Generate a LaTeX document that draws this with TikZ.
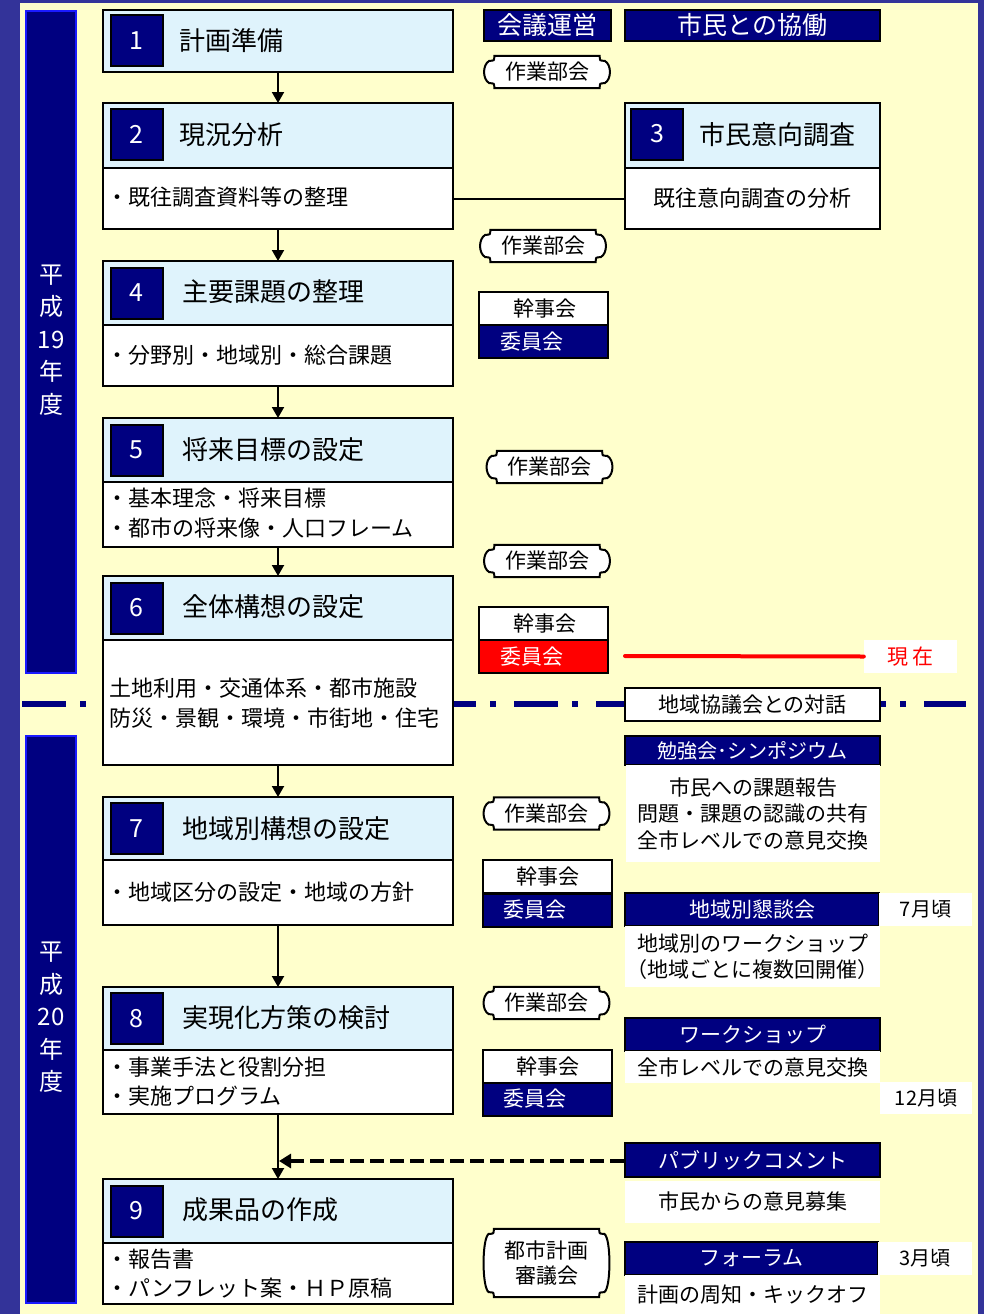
\documentclass[tikz,border=0pt]{standalone}
\usepackage{fontspec}
\setmainfont{Noto Sans CJK JP}
\usetikzlibrary{arrows.meta}
\definecolor{navy}{HTML}{000080}
\definecolor{framec}{HTML}{333399}
\definecolor{bgy}{HTML}{FFFFCC}
\definecolor{hdrblue}{HTML}{DFF3FC}
\definecolor{colborder}{HTML}{1A1AFF}
\newcommand\fs[2]{\fontsize{#1}{#2}\selectfont}
\newcommand\plaqueframe[1]{%
\draw[plqline] ([xshift=5pt]#1.north west) -- ([xshift=-5pt]#1.north east)
 .. controls ([xshift=-5pt,yshift=-5pt]#1.north east) .. ([yshift=-5pt]#1.north east)
 .. controls ([xshift=7pt,yshift=-9pt]#1.north east) and ([xshift=7pt,yshift=9pt]#1.south east) .. ([yshift=5pt]#1.south east)
 .. controls ([xshift=-5pt,yshift=5pt]#1.south east) .. ([xshift=-5pt]#1.south east)
 -- ([xshift=5pt]#1.south west)
 .. controls ([xshift=5pt,yshift=5pt]#1.south west) .. ([yshift=5pt]#1.south west)
 .. controls ([xshift=-7pt,yshift=9pt]#1.south west) and ([xshift=-7pt,yshift=-9pt]#1.north west) .. ([yshift=-5pt]#1.north west)
 .. controls ([xshift=5pt,yshift=-5pt]#1.north west) .. ([xshift=5pt]#1.north west) -- cycle;}
\tikzset{
  hdr/.style={draw=black, line width=2.2pt, fill=hdrblue, anchor=north west, minimum width=350pt, inner sep=0pt, outer sep=0pt},
  bodybox/.style={draw=black, line width=2.2pt, fill=white, anchor=north west, minimum width=350pt, inner sep=0pt, outer sep=0pt},
  numsq/.style={draw=black, line width=2pt, fill=navy, text=white, minimum width=52pt, minimum height=51pt, inner sep=0pt, font=\fs{25}{30}},
  ttl/.style={anchor=west, inner sep=0pt, font=\fs{26}{30}},
  btxt/.style={anchor=west, inner sep=0pt, align=left, font=\fs{22}{29.5}},
  lab/.style={inner sep=0pt, font=\fs{21}{26}},
  navybox/.style={draw=black, line width=2pt, fill=navy, text=white, inner sep=0pt, font=\fs{21}{26}},
  whitebox/.style={fill=white, inner sep=0pt, font=\fs{21}{26.5}, align=center},
  kbox/.style={draw=black, line width=2pt, fill=white, inner sep=0pt, minimum width=129pt, minimum height=33pt},
  plqbox/.style={inner sep=0pt, minimum width=115pt, minimum height=32pt},
  plqline/.style={draw=black, line width=2pt, fill=white},
  yearcol/.style={draw=colborder, line width=2pt, fill=navy},
  yeartxt/.style={text=white, align=center, inner sep=0pt, font=\fs{24}{32.5}},
  arr/.style={line width=2pt, -{Triangle[length=11pt,width=12pt]}},
}
\begin{document}
\begin{tikzpicture}[x=1pt,y=-1pt]
\useasboundingbox (0,0) rectangle (984,1314);
\fill[framec] (0,0) rectangle (984,1314);
\fill[bgy] (20,3) rectangle (978,1314);
% year columns
\node[yearcol, anchor=north west, minimum width=50pt, minimum height=662pt] (col1) at (25,10) {};
\node[yearcol, anchor=north west, minimum width=50pt, minimum height=567pt] (col2) at (25,735) {};
\node[yeartxt] (y19) at (col1.center |- 0,340) {平\\成\\19\\年\\度};
\node[yeartxt] (y20) at (col2.center |- 0,1017.5) {平\\成\\20\\年\\度};
% dash-dot separator
\coordinate (sepL) at (22,704);
\coordinate (sepR) at (966,704);
\draw[navy, line width=6pt, dash pattern=on 44pt off 14pt on 6pt off 18pt] (sepL) -- (sepR);

% ---- step boxes ----
\node[hdr, minimum height=62pt] (h1) at (103,10) {};
\node[numsq] (n1) at (136.5,41) {1};
\node[ttl] (t1) at (179,41) {計画準備};

\node[hdr, minimum height=65pt] (h2) at (103,103) {};
\node[bodybox, minimum height=61pt] (b2) at (103,168) {};
\node[numsq] (n2) at (136.5,134) {2};
\node[ttl] (t2) at (179,135) {現況分析};
\node[btxt] (x2) at (106,197) {・既往調査資料等の整理};

\node[hdr, minimum height=65pt, minimum width=255pt] (h3) at (625,103) {};
\node[bodybox, minimum height=61pt, minimum width=255pt] (b3) at (625,168) {};
\node[numsq] (n3) at (657,134) {3};
\node[ttl] (t3) at (699,135) {市民意向調査};
\node[inner sep=0pt, font=\fs{22}{26}] (x3) at (b3.center) {既往意向調査の分析};

\node[hdr, minimum height=64pt] (h4) at (103,261) {};
\node[bodybox, minimum height=61pt] (b4) at (103,325) {};
\node[numsq] (n4) at (136.5,293) {4};
\node[ttl] (t4) at (182,292) {主要課題の整理};
\node[btxt] (x4) at (106,355) {・分野別・地域別・総合課題};

\node[hdr, minimum height=64pt] (h5) at (103,418) {};
\node[bodybox, minimum height=65pt] (b5) at (103,482) {};
\node[numsq] (n5) at (136.5,450) {5};
\node[ttl] (t5) at (182,450) {将来目標の設定};
\node[btxt] (x5) at (106,513) {・基本理念・将来目標\\・都市の将来像・人口フレーム};

\node[hdr, minimum height=64pt] (h6) at (103,576) {};
\node[bodybox, minimum height=125pt] (b6) at (103,640) {};
\node[numsq] (n6) at (136.5,608) {6};
\node[ttl] (t6) at (182,607) {全体構想の設定};
\node[btxt] (x6) at (109,703) {土地利用・交通体系・都市施設\\防災・景観・環境・市街地・住宅};

\node[hdr, minimum height=63pt] (h7) at (103,797) {};
\node[bodybox, minimum height=65pt] (b7) at (103,860) {};
\node[numsq] (n7) at (136.5,828.5) {7};
\node[ttl] (t7) at (182,829) {地域別構想の設定};
\node[btxt] (x7) at (106,892) {・地域区分の設定・地域の方針};

\node[hdr, minimum height=63pt] (h8) at (103,987) {};
\node[bodybox, minimum height=64pt] (b8) at (103,1050) {};
\node[numsq] (n8) at (136.5,1018.5) {8};
\node[ttl] (t8) at (182,1018) {実現化方策の検討};
\node[btxt] (x8) at (106,1081.5) {・事業手法と役割分担\\・実施プログラム};

\node[hdr, minimum height=64pt] (h9) at (103,1179) {};
\node[bodybox, minimum height=61pt] (b9) at (103,1243) {};
\node[numsq] (n9) at (136.5,1211) {9};
\node[ttl] (t9) at (182,1210) {成果品の作成};
\node[btxt] (x9) at (106,1273.5) {・報告書\\・パンフレット案・ＨＰ原稿};

% connectors
\draw[arr] (h1.south) -- (h2.north);
\draw[arr] (b2.south) -- (h4.north);
\draw[arr] (b4.south) -- (h5.north);
\draw[arr] (b5.south) -- (h6.north);
\draw[arr] (b6.south) -- (h7.north);
\draw[arr] (b7.south) -- (h8.north);
\draw[arr] (b8.south) -- (h9.north);
\draw[line width=2pt] (b2.east) -- (b3.west);

% ---- meeting column ----
\node[navybox, minimum width=127pt, minimum height=31pt, font=\fs{25}{28}] (kaigi) at (547,25.5) {会議運営};

\node[plqbox] (w1) at (547,72) {}; \plaqueframe{w1}; \node[lab] (w1t) at (w1) {作業部会};
\node[plqbox] (w2) at (543,246) {}; \plaqueframe{w2}; \node[lab] (w2t) at (w2) {作業部会};
\node[plqbox] (w3) at (549.5,467) {}; \plaqueframe{w3}; \node[lab] (w3t) at (w3) {作業部会};
\node[plqbox] (w4) at (547,561) {}; \plaqueframe{w4}; \node[lab] (w4t) at (w4) {作業部会};
\node[plqbox] (w5) at (546.5,813.5) {}; \plaqueframe{w5}; \node[lab] (w5t) at (w5) {作業部会};
\node[plqbox] (w6) at (546.5,1003) {}; \plaqueframe{w6}; \node[lab] (w6t) at (w6) {作業部会};
\node[plqbox, minimum height=68pt] (w7) at (546.5,1263) {}; \plaqueframe{w7};
\node[lab, align=center, font=\fs{21}{25}] (w7t) at (w7) {都市計画\\審議会};

\node[kbox] (ka) at (543.5,308.5) {};
\node[lab] (kat) at (545,308.5) {幹事会};
\node[kbox, fill=navy] (ia) at (543.5,341.5) {};
\node[lab, text=white] (iat) at (532,341.5) {委員会};

\node[kbox] (kb) at (543,623.5) {};
\node[lab] (kbt) at (545,623.5) {幹事会};
\node[kbox, fill=red] (ib) at (543,656.5) {};
\node[lab, text=white] (ibt) at (532,656.5) {委員会};

\node[kbox] (kc) at (547.5,876.5) {};
\node[lab] (kct) at (548,876.5) {幹事会};
\node[kbox, fill=navy] (ic) at (547.5,910) {};
\node[lab, text=white] (ict) at (535,910) {委員会};

\node[kbox] (kd) at (547.5,1066.5) {};
\node[lab] (kdt) at (548,1066.5) {幹事会};
\node[kbox, fill=navy] (id) at (547.5,1099) {};
\node[lab, text=white] (idt) at (535,1099) {委員会};

% ---- citizen column ----
\node[navybox, minimum width=255pt, minimum height=31pt, font=\fs{25}{28}] (kyodo) at (752.5,25.5) {市民との協働};

\node[whitebox, minimum width=93pt, minimum height=33pt, text=red, font=\fs{21}{26}] (gen) at (910.5,656.5) {現 在};
\coordinate (redS) at (625,656);
\draw[red, line width=4pt, line cap=round] (redS) -- (gen.west);

\node[draw=black, line width=2pt, fill=white, inner sep=0pt, minimum width=255pt, minimum height=33pt, font=\fs{21}{26}] (taiwa) at (752.5,704.5) {地域協議会との対話};

\node[navybox, minimum width=255pt, minimum height=29pt, font=\fs{20}{24}] (benk) at (752.5,750.5) {勉強会･シンポジウム};
\node[whitebox, minimum width=254pt, minimum height=97pt] (benkb) at (753,813.5) {市民への課題報告\\問題・課題の認識の共有\\全市レベルでの意見交換};

\node[navybox, minimum width=254pt, minimum height=33pt] (kond) at (752,909.5) {地域別懇談会};
\node[whitebox, minimum width=93pt, minimum height=33pt, font=\fs{20}{24}] (m7) at (925.5,909.5) {7月頃};
\node[whitebox, minimum width=255pt, minimum height=61pt] (kondb) at (752.5,956.5) {地域別のワークショップ\\（地域ごとに複数回開催）};

\node[navybox, minimum width=255pt, minimum height=33pt] (ws) at (752.5,1034.5) {ワークショップ};
\node[whitebox, minimum width=255pt, minimum height=32pt] (wsb) at (752.5,1067) {全市レベルでの意見交換};
\node[whitebox, minimum width=92pt, minimum height=32pt, font=\fs{20}{24}] (m12) at (926,1098) {12月頃};

\node[navybox, minimum width=255pt, minimum height=34pt] (pc) at (752.5,1160) {パブリックコメント};
\node[whitebox, minimum width=255pt, minimum height=42pt] (pcb) at (752.5,1202) {市民からの意見募集};
\coordinate (j9) at (279,1161);
\draw[line width=4pt, dash pattern=on 14pt off 6pt, -{Triangle[length=12pt,width=14pt]}] (pc.west |- j9) -- (j9);

\node[navybox, minimum width=253pt, minimum height=33pt] (forum) at (751.5,1258.5) {フォーラム};
\node[whitebox, minimum width=94pt, minimum height=33pt, font=\fs{20}{24}] (m3) at (925,1258.5) {3月頃};
\node[whitebox, minimum width=255pt, minimum height=39pt] (forumb) at (752.5,1294.5) {計画の周知・キックオフ};
\end{tikzpicture}
\end{document}
